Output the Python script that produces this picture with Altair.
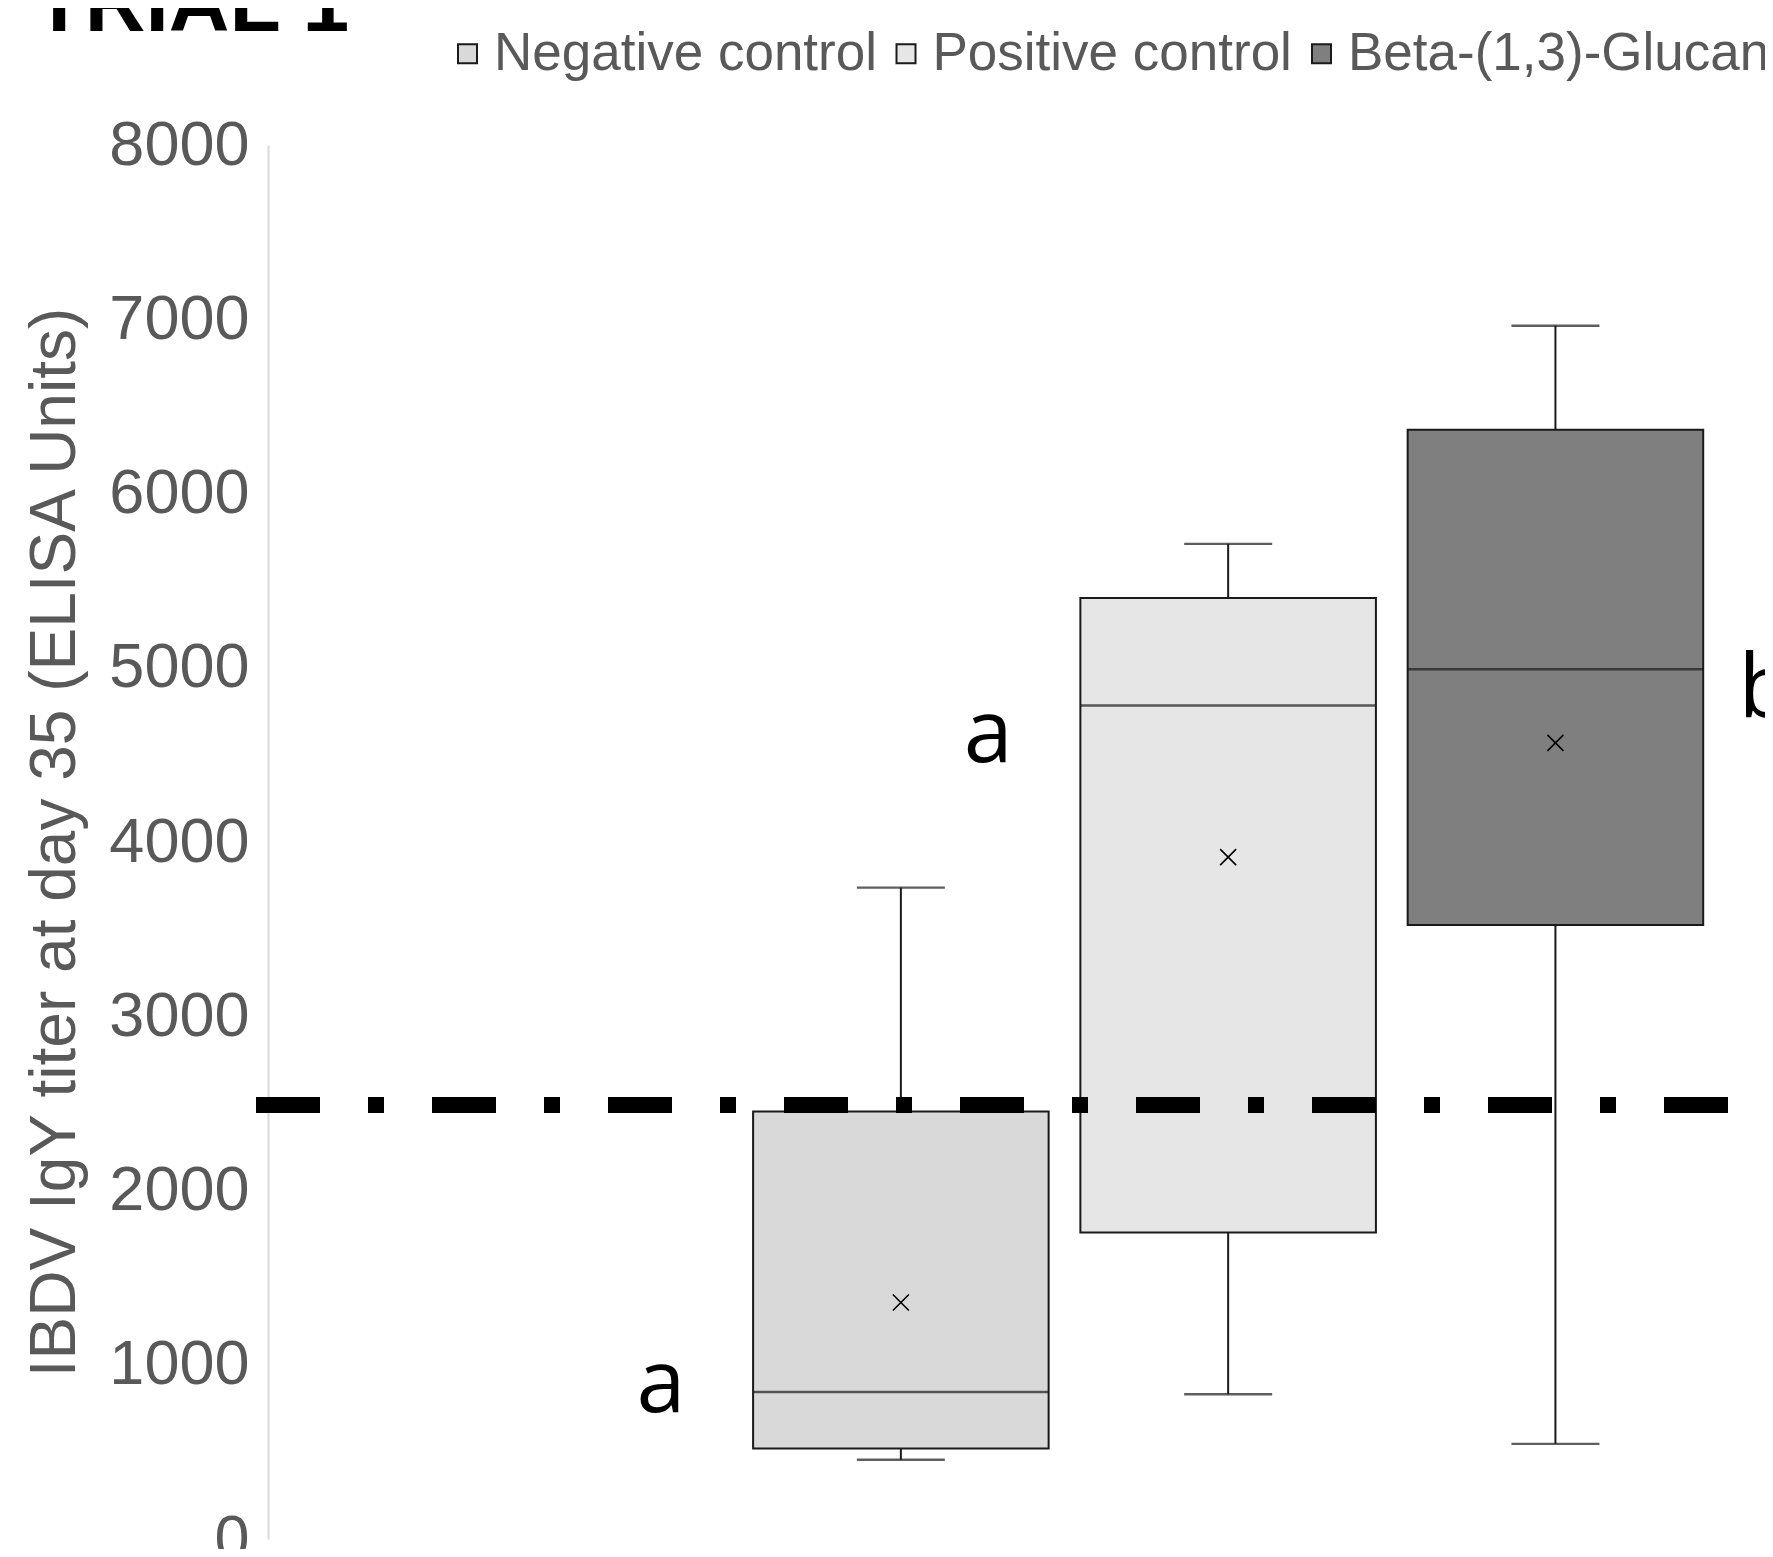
import altair as alt
import pandas as pd

# ---------------- data ----------------
groups = ["Negative control", "Positive control", "Beta-(1,3)-Glucan"]
fills = ["#d9d9d9", "#e6e6e6", "#7f7f7f"]
whisker_low = [455, 831, 546]
q1 = [520, 1759, 3524]
median = [844, 4783, 4991]
q3 = [2453, 5400, 6366]
whisker_high = [3738, 5711, 6963]
mean = [1357, 3913, 4569]
cutoff = [2490]
y_ticks = [0, 1000, 2000, 3000, 4000, 5000, 6000, 7000, 8000]
letter_groups = ["Negative control", "Positive control", "Beta-(1,3)-Glucan"]
letters = ["a", "a", "b"]
letter_y = [729, 4459, 4717]
title_text = ["TRIAL 1"]
y_title = "IBDV IgY titer at day 35 (ELISA Units)"

df = pd.DataFrame({
    "group": groups,
    "low": whisker_low,
    "q1": q1,
    "median": median,
    "q3": q3,
    "high": whisker_high,
    "mean": mean,
})
df_cut = pd.DataFrame({"cutoff": cutoff})
df_let = pd.DataFrame({"group": letter_groups, "letter": letters, "y": letter_y})
df_title = pd.DataFrame({"t": title_text})

FONT = "Liberation Sans"
GRAY = "#595959"
LINE = "#1a1a1a"

x_scale = alt.Scale(domain=groups, paddingInner=0.097, paddingOuter=0.8355, align=0.887)
xenc = alt.X("group:N", scale=x_scale, axis=None)
y_scale = alt.Scale(domain=[0, 8000], nice=False, zero=True)
yaxis = alt.Axis(
    values=y_ticks, format="d", ticks=False, grid=False,
    domainColor="#d9d9d9", domainWidth=2,
    labelFont=FONT, labelFontSize=63, labelColor=GRAY, labelPadding=19,
    labelFlush=False, labelOverlap=False,
    titleFont=FONT, titleFontSize=64, titleColor=GRAY, titleFontWeight="normal",
    titleX=-212.5, titleY=697, titleAngle=270, titleAlign="center", titleBaseline="middle",
)


def Y(field):
    return alt.Y(field, type="quantitative", scale=y_scale, axis=yaxis, title=y_title)


base = alt.Chart(df)

whisk_lo = base.mark_rule(color=LINE, strokeWidth=2).encode(x=xenc, y=Y("low"), y2="q1:Q")
whisk_hi = base.mark_rule(color=LINE, strokeWidth=2).encode(x=xenc, y=Y("q3"), y2="high:Q")
cap_lo = base.mark_tick(color=LINE, size=88, thickness=2.4).encode(x=xenc, y=Y("low"))
cap_hi = base.mark_tick(color=LINE, size=88, thickness=2.4).encode(x=xenc, y=Y("high"))

boxes = base.mark_bar(stroke=LINE, strokeWidth=2).encode(
    x=xenc,
    y=Y("q1"),
    y2="q3:Q",
    color=alt.Color(
        "group:N",
        scale=alt.Scale(domain=groups, range=fills),
        legend=alt.Legend(
            title=None, orient="none", legendX=173, legendY=-118, direction="horizontal",
            symbolType="square", symbolSize=361, symbolStrokeColor=LINE, symbolStrokeWidth=2,
            labelFont=FONT, labelFontSize=53, labelColor=GRAY, labelOffset=0,
            labelLimit=800, columnPadding=2.5, padding=0,
        ),
    ),
)
med = base.mark_tick(color=LINE, size=295.5, thickness=2.4).encode(x=xenc, y=Y("median"))
means = base.mark_point(
    shape="M-1,-1L1,1M-1,1L1,-1", size=256, filled=False, stroke="black",
    strokeWidth=1.6, opacity=1,
).encode(x=xenc, y=Y("mean"))

cut = alt.Chart(df_cut).mark_rule(
    color="black", strokeWidth=16, strokeDash=[64, 48, 16, 48], strokeCap="butt"
).encode(y=Y("cutoff"), x=alt.value(-12), x2=alt.value(1460))

let_a = alt.Chart(df_let).transform_filter(alt.datum.letter == "a").mark_text(
    font="Open Sans", fontSize=88, color="black", align="center", baseline="alphabetic", dx=-240
).encode(x=xenc, y=Y("y"), text="letter:N")
let_b = alt.Chart(df_let).transform_filter(alt.datum.letter == "b").mark_text(
    font="Open Sans", fontSize=88, color="black", align="left", baseline="alphabetic", dx=183
).encode(x=xenc, y=Y("y"), text="letter:N")

title = alt.Chart(df_title).mark_text(
    font=FONT, fontWeight="bold", fontSize=84, color="black", align="left", baseline="alphabetic"
).encode(text="t:N", x=alt.value(-234.5), y=alt.value(-114))

chart = alt.layer(
    whisk_lo, whisk_hi, cap_lo, cap_hi, boxes, med, means, cut, let_a, let_b, title
).properties(
    width=1497,
    height=1394,
    padding={"left": 260, "top": 137, "right": 0, "bottom": 10},
    autosize=alt.AutoSizeParams(type="none"),
    background="white",
).configure_view(stroke=None)

chart.save("out.html", embed_options={"renderer": "svg", "actions": False})
